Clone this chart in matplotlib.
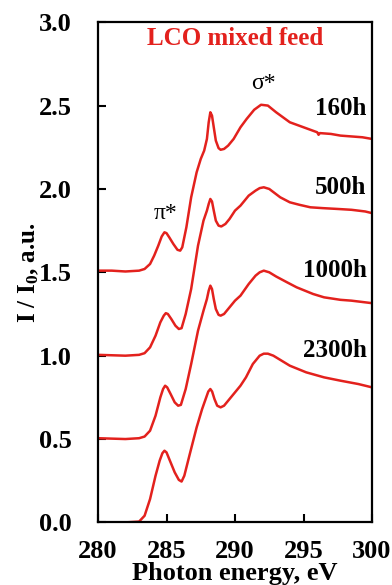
import matplotlib
matplotlib.use('Agg')
import matplotlib.pyplot as plt

plt.rcParams['font.family'] = 'Liberation Serif'
plt.rcParams['mathtext.fontset'] = 'custom'
plt.rcParams['mathtext.rm'] = 'Liberation Serif:bold'
plt.rcParams['mathtext.default'] = 'rm'

# spectra (offset already included)
e_160 = [280, 281, 282, 283, 283.4, 283.8, 284.1, 284.4, 284.65, 284.85, 285.0, 285.2, 285.5,
         285.8, 286.0, 286.15, 286.45, 286.8, 287.2, 287.5, 287.75, 287.95, 288.08, 288.2,
         288.32, 288.45, 288.6, 288.8, 288.95, 289.2, 289.5, 289.9, 290.4, 290.85, 291.4,
         291.9, 292.4, 293.0, 294.0, 295.0, 296.0, 296.1, 296.2, 297.0, 297.7, 298.5, 299.3, 300]
i_160 = [1.51, 1.51, 1.505, 1.51, 1.52, 1.55, 1.60, 1.66, 1.715, 1.74, 1.735, 1.71, 1.67,
         1.635, 1.63, 1.65, 1.77, 1.95, 2.10, 2.18, 2.23, 2.30, 2.40, 2.46,
         2.44, 2.37, 2.29, 2.245, 2.235, 2.24, 2.26, 2.30, 2.37, 2.42, 2.475,
         2.505, 2.50, 2.46, 2.40, 2.37, 2.34, 2.325, 2.335, 2.33, 2.32, 2.315, 2.31, 2.30]

e_500 = [280, 282, 283, 283.4, 283.8, 284.2, 284.55, 284.8, 284.95, 285.1, 285.35, 285.65,
         285.9, 286.1, 286.4, 286.8, 287.3, 287.7, 287.95, 288.08, 288.2, 288.32, 288.45,
         288.6, 288.8, 289.0, 289.3, 289.6, 290.0, 290.4, 291.0, 291.5, 291.8, 292.1, 292.5,
         293.3, 294.0, 294.7, 295.5, 296.4, 297.5, 298.5, 299.5, 300]
i_500 = [1.005, 1.0, 1.005, 1.015, 1.05, 1.12, 1.20, 1.24, 1.255, 1.25, 1.22, 1.18,
         1.16, 1.165, 1.25, 1.40, 1.66, 1.81, 1.87, 1.91, 1.94, 1.925, 1.87,
         1.81, 1.78, 1.775, 1.79, 1.82, 1.87, 1.90, 1.96, 1.99, 2.005, 2.01, 2.00,
         1.95, 1.92, 1.905, 1.89, 1.885, 1.88, 1.875, 1.865, 1.855]

e_1000 = [280, 282, 283, 283.4, 283.8, 284.2, 284.55, 284.75, 284.9, 285.05, 285.3, 285.6,
          285.85, 286.05, 286.4, 286.8, 287.3, 287.7, 287.95, 288.08, 288.2, 288.32, 288.45,
          288.6, 288.8, 288.95, 289.2, 289.5, 290.0, 290.4, 291.0, 291.5, 291.8, 292.1, 292.5,
          293.0, 293.8, 294.5, 295.7, 296.5, 297.7, 298.5, 299.5, 300]
i_1000 = [0.505, 0.50, 0.505, 0.515, 0.55, 0.64, 0.75, 0.80, 0.82, 0.81, 0.77, 0.72,
          0.70, 0.705, 0.80, 0.95, 1.15, 1.27, 1.34, 1.39, 1.42, 1.40, 1.34,
          1.28, 1.245, 1.24, 1.25, 1.28, 1.33, 1.36, 1.43, 1.48, 1.50, 1.51, 1.50,
          1.475, 1.44, 1.41, 1.37, 1.35, 1.335, 1.33, 1.32, 1.315]

e_2300 = [280, 282, 283.0, 283.4, 283.8, 284.2, 284.5, 284.7, 284.85, 285.0, 285.25, 285.6,
          285.9, 286.1, 286.3, 286.7, 287.2, 287.6, 287.9, 288.05, 288.2, 288.33, 288.5,
          288.7, 288.95, 289.2, 289.5, 290.0, 290.4, 290.8, 291.3, 291.8, 292.1, 292.4,
          292.8, 293.4, 294.0, 295.2, 296.5, 297.7, 299.0, 300]
i_2300 = [0.0, 0.0, 0.005, 0.04, 0.14, 0.28, 0.37, 0.415, 0.43, 0.42, 0.37, 0.30,
          0.255, 0.245, 0.28, 0.41, 0.57, 0.68, 0.75, 0.785, 0.80, 0.785, 0.74,
          0.70, 0.69, 0.70, 0.73, 0.78, 0.82, 0.87, 0.95, 1.00, 1.012, 1.012,
          1.00, 0.97, 0.94, 0.90, 0.87, 0.85, 0.83, 0.81]

labels = ['160h', '500h', '1000h', '2300h']
label_y = [2.48, 2.01, 1.51, 1.03]
xticks = [280, 285, 290, 295, 300]
yticks = [0.0, 0.5, 1.0, 1.5, 2.0, 2.5, 3.0]

red = '#e3211d'

fig = plt.figure(figsize=(3.92, 5.85), dpi=100)
ax = fig.add_axes([0.25, 0.107, 0.699, 0.855])

for e, i in [(e_160, i_160), (e_500, i_500), (e_1000, i_1000), (e_2300, i_2300)]:
    ax.plot(e, i, color=red, lw=1.8)

for lab, y in zip(labels, label_y):
    ax.text(299.6, y, lab, ha='right', va='center', fontsize=18, fontweight='bold')

ax.text(290.0, 2.905, 'LCO mixed feed', ha='center', va='center', fontsize=18,
        fontweight='bold', color=red)
ax.text(292.05, 2.63, 'σ*', ha='center', va='center', fontsize=17)
ax.text(284.9, 1.85, 'π*', ha='center', va='center', fontsize=17)

ax.set_xlim(280, 300)
ax.set_ylim(0, 3.0)
ax.set_xticks(xticks)
ax.set_yticks(yticks)
ax.set_yticklabels(['%.1f' % v for v in yticks])
ax.tick_params(direction='in', length=6, width=1.5, labelsize=19)
ax.tick_params(axis='x', pad=13)
ax.tick_params(axis='y', pad=19)
for lab in ax.get_xticklabels() + ax.get_yticklabels():
    lab.set_fontweight('bold')
for s in ax.spines.values():
    s.set_linewidth(1.6)

ax.set_xlabel('Photon energy, eV', fontsize=19, fontweight='bold', labelpad=-1)
ax.set_ylabel('I / I$_0$, a.u.', fontsize=18, fontweight='bold', labelpad=-2)

fig.savefig('out.png', dpi=100)
